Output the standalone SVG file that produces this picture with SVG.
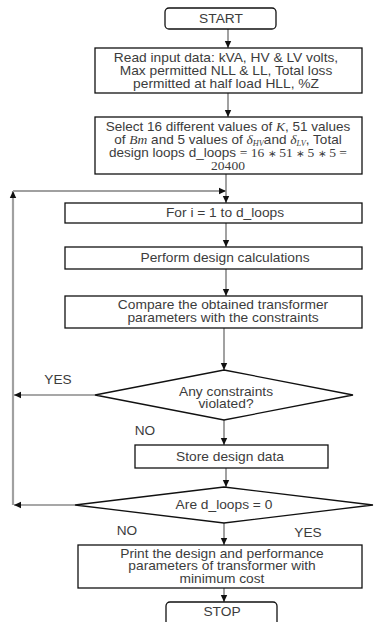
<svg xmlns="http://www.w3.org/2000/svg" width="386" height="622" viewBox="0 0 386 622">
<defs>
<marker id="ah" markerWidth="8" markerHeight="8" refX="7" refY="4" orient="auto" markerUnits="userSpaceOnUse">
<path d="M0,0.8 L7,4 L0,7.2 Z" fill="#111"/>
</marker>
<style>
.box{fill:#fff;stroke:#111;stroke-width:1.3}
.t{font-family:"Liberation Sans",Arial,sans-serif;font-size:13px;fill:#3c3c3c;text-anchor:middle}
.m{font-family:"Liberation Serif","Times New Roman",serif;font-style:italic}
.n{font-family:"Liberation Serif","Times New Roman",serif}
.s{font-size:10px}
.c{fill:none;stroke:#8a8a8a;stroke-width:1.6}
.lp{fill:none;stroke:#a0a0a0;stroke-width:2.2}
</style>
</defs>
<rect width="386" height="622" fill="#fff"/>
<g id="connectors">
<line class="c" x1="228" y1="29" x2="228" y2="48" marker-end="url(#ah)"/>
<line class="c" x1="228" y1="93" x2="228" y2="117" marker-end="url(#ah)"/>
<line class="c" x1="226" y1="174" x2="226" y2="203" marker-end="url(#ah)"/>
<polyline class="lp" points="13,505 13,191" marker-end="url(#ah)"/>
<polyline class="lp" points="13,191 226,191" marker-end="url(#ah)"/>
<line class="c" x1="226" y1="223" x2="226" y2="247" marker-end="url(#ah)"/>
<line class="c" x1="226" y1="269" x2="226" y2="296" marker-end="url(#ah)"/>
<line class="c" x1="224" y1="328" x2="224" y2="370" marker-end="url(#ah)"/>
<line class="c" x1="95" y1="395" x2="14" y2="395" marker-end="url(#ah)"/>
<line class="c" x1="224" y1="420" x2="224" y2="445" marker-end="url(#ah)"/>
<line class="c" x1="226" y1="468" x2="226" y2="487" marker-end="url(#ah)"/>
<line class="c" x1="75" y1="505" x2="14" y2="505" marker-end="url(#ah)"/>
<line class="c" x1="224" y1="523" x2="224" y2="545" marker-end="url(#ah)"/>
<line class="c" x1="224" y1="588" x2="224" y2="602" marker-end="url(#ah)"/>
<text class="t" transform="translate(58,0) scale(1.05 1)" x="0" y="384">YES</text>
<text class="t" transform="translate(145,0) scale(1.05 1)" x="0" y="435">NO</text>
<text class="t" transform="translate(127,0) scale(1.05 1)" x="0" y="535">NO</text>
<text class="t" transform="translate(308,0) scale(1.05 1)" x="0" y="537">YES</text>
</g>
<g id="start">
<rect class="box" x="165" y="8" width="111" height="21" rx="4"/>
<text class="t" transform="translate(221,0) scale(1.06 1)" x="0" y="23.5">START</text>
</g>
<g id="input">
<rect class="box" x="95" y="48" width="267" height="45"/>
<text class="t" transform="translate(226,0) scale(1.06 1)" x="0"><tspan x="0" y="62.5">Read input data: kVA, HV &amp; LV volts,</tspan><tspan x="0" y="75.5">Max permitted NLL &amp; LL, Total loss</tspan><tspan x="0" y="88">permitted at half load HLL,  %Z</tspan></text>
</g>
<g id="select">
<rect class="box" x="95" y="117" width="267" height="57"/>
<text class="t" transform="translate(228,0) scale(1.04 1)" x="0"><tspan x="0" y="131.5">Select 16 different values of <tspan class="m">K</tspan>, 51 values</tspan><tspan x="0" y="144.5">of <tspan class="m">Bm</tspan> and 5 values of <tspan class="m">δ</tspan><tspan class="m" font-size="8" dy="2">HV</tspan><tspan dy="-2">and </tspan><tspan class="m">δ</tspan><tspan class="m" font-size="8" dy="2">LV</tspan><tspan dy="-2">, Total</tspan></tspan><tspan x="0" y="157.5">design loops d_loops <tspan class="n">= 16 <tspan class="s">∗</tspan> 51 <tspan class="s">∗</tspan> 5 <tspan class="s">∗</tspan> 5 =</tspan></tspan><tspan x="0" y="170" class="n">20400</tspan></text>
</g>
<g id="fori">
<rect class="box" x="65" y="203" width="297" height="20"/>
<text class="t" transform="translate(225,0) scale(1.06 1)" x="0" y="217.5">For i = 1 to d_loops</text>
</g>
<g id="perform">
<rect class="box" x="65" y="247" width="297" height="22"/>
<text class="t" transform="translate(225,0) scale(1.06 1)" x="0" y="262.5">Perform design calculations</text>
</g>
<g id="compare">
<rect class="box" x="65" y="296" width="297" height="32"/>
<text class="t" transform="translate(223,0) scale(1.06 1)" x="0"><tspan x="0" y="309.5">Compare the obtained transformer</tspan><tspan x="0" y="322.5">parameters with the constraints</tspan></text>
</g>
<g id="decision1">
<polygon class="box" points="224,370 353,395 224,420 95,395"/>
<text class="t" transform="translate(226,0) scale(1.06 1)" x="0"><tspan x="0" y="396">Any constraints</tspan><tspan x="0" y="408.5">violated?</tspan></text>
</g>
<g id="store">
<rect class="box" x="135" y="445" width="193" height="23"/>
<text class="t" transform="translate(230,0) scale(1.06 1)" x="0" y="461">Store design data</text>
</g>
<g id="decision2">
<polygon class="box" points="224,487 373,505 224,523 75,505"/>
<text class="t" transform="translate(224,0) scale(1.06 1)" x="0" y="509.5">Are d_loops = 0</text>
</g>
<g id="print">
<rect class="box" x="78" y="545" width="284" height="43"/>
<text class="t" transform="translate(222,0) scale(1.06 1)" x="0"><tspan x="0" y="558">Print the design and performance</tspan><tspan x="0" y="570.5">parameters of transformer with</tspan><tspan x="0" y="583">minimum cost</tspan></text>
</g>
<g id="stop">
<rect class="box" x="166" y="602" width="111" height="26" rx="4"/>
<text class="t" transform="translate(222,0) scale(1.06 1)" x="0" y="616.5">STOP</text>
</g>
</svg>
